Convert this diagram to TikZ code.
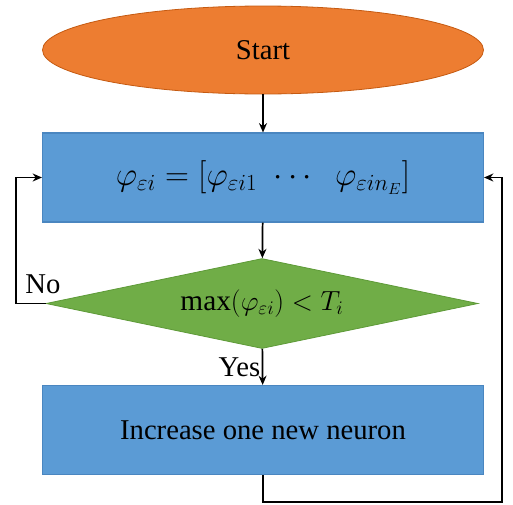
\documentclass[tikz,border=0pt]{standalone}
\usepackage{fontspec}
\setmainfont{Liberation Serif}
\usepackage{amsmath}
\usetikzlibrary{shapes.geometric, arrows.meta}

\definecolor{naranja}{HTML}{ED7D31}
\definecolor{bordenaranja}{HTML}{C55A11}
\definecolor{azul}{HTML}{5B9BD5}
\definecolor{bordeazul}{HTML}{4A86C0}
\definecolor{verde}{HTML}{70AD47}
\definecolor{bordeverde}{HTML}{5E9A38}

\begin{document}
\begin{tikzpicture}[x=0.75pt,y=-0.75pt,
    flecha/.style={-{Stealth[length=7pt, width=6pt]}, line width=1.3pt},
    texto/.style={font=\fontsize{21.5}{26}\selectfont},
    caja/.style={draw=bordeazul, fill=azul, line width=0.8pt, minimum width=330.75pt, minimum height=66.75pt, inner sep=0pt, texto}]
    % Fijar los límites del gráfico
    \useasboundingbox (0,0) rectangle (513,504);

    % Nodos del diagrama
    \node[ellipse, draw=bordenaranja, fill=naranja, line width=0.6pt, minimum width=330.75pt, minimum height=66pt, inner sep=0pt, texto] (inicio) at (263,50) {Start};
    \node[caja, font=\fontsize{23}{27}\selectfont] (phi) at (263,177.5) {$\varphi_{\varepsilon i} = [\varphi_{\varepsilon i1} \hspace{8pt} \cdots \hspace{13pt} \varphi_{\varepsilon i n_E}]$};
    \node[diamond, draw=bordeverde, fill=verde, line width=0.6pt, minimum width=324pt, minimum height=67.5pt, aspect=4.8, inner sep=0pt, font=\fontsize{22}{26}\selectfont] (prueba) at (262,303.5) {$\max(\varphi_{\varepsilon i}) < T_i$};
    \node[caja] (neurona) at (263,430) {Increase one new neuron};

    % Puntos de paso para los lazos
    \coordinate (izq) at (16,303.5);
    \coordinate (der) at (502,502);

    % Flechas principales
    \draw[flecha] (inicio) -- (phi);
    \draw[flecha] (phi) -- (prueba);
    \draw[flecha] (prueba) -- (neurona) node[pos=0.5, left, inner sep=1pt, texto] (si) {Yes};

    % Lazo de la izquierda (No)
    \draw[flecha] (prueba.west) -- (izq) |- (phi.west);
    \node[texto] (no) at (43,284) {No};

    % Lazo de la derecha
    \draw[flecha] (neurona.south) |- (der) |- (phi.east);

\end{tikzpicture}
\end{document}
